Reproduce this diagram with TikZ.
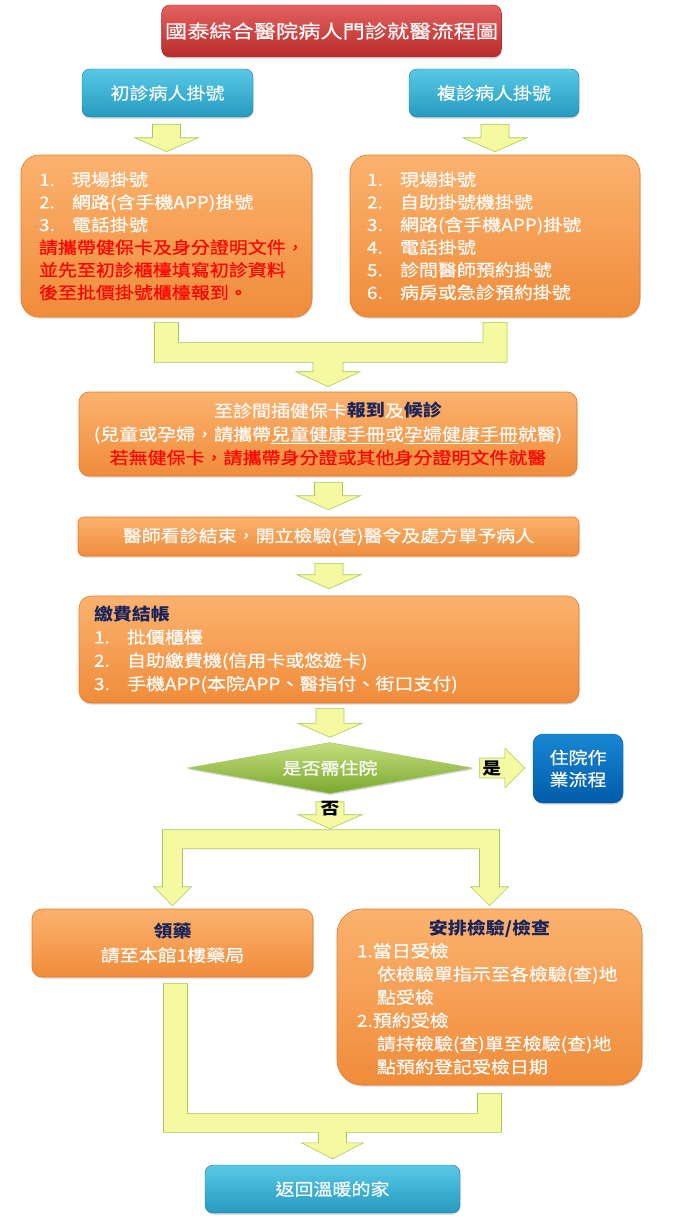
\documentclass[tikz,border=0pt]{standalone}
\usepackage{fontspec}
\setmainfont{Noto Sans CJK TC}[FakeStretch=1.13, UprightFeatures={FakeBold=0.35}]
\newfontfamily\titlefont{Noto Sans CJK TC}[FakeStretch=1.2, UprightFeatures={FakeBold=0.35}]
\usetikzlibrary{calc,shapes.geometric,shadows}

\definecolor{boxorange}{RGB}{247,150,70}
\definecolor{orangetop}{RGB}{251,178,110}
\definecolor{orangebot}{RGB}{240,140,58}
\definecolor{orangeline}{RGB}{226,122,44}
\definecolor{titletop}{RGB}{226,98,96}
\definecolor{titlebot}{RGB}{186,42,42}
\definecolor{cyantop}{RGB}{88,200,230}
\definecolor{cyanbot}{RGB}{38,155,192}
\definecolor{wardtop}{RGB}{24,134,212}
\definecolor{wardbot}{RGB}{0,92,168}
\definecolor{greentop}{RGB}{196,222,125}
\definecolor{greenbot}{RGB}{122,168,46}
\definecolor{arrowfill}{RGB}{245,250,160}
\definecolor{arrowline}{RGB}{168,200,92}
\definecolor{headnavy}{RGB}{26,36,92}
\definecolor{warnred}{RGB}{255,0,0}

\newcommand\warn[1]{\textcolor{warnred}{#1}}
\newcommand\head[1]{\textcolor{headnavy}{\bfseries #1}}
\newcommand\entry[2]{\makebox[33pt][l]{#1}#2}
% fat arrow pointing down: shaft top, tip
\newcommand\blockdown[2]{%
  \path[yarrow] let \p1=#1, \p2=#2 in
    (\x2-14pt,\y1) -- (\x2+14pt,\y1) -- (\x2+14pt,\y2+14pt) -- (\x2+32pt,\y2+14pt)
    -- (\x2,\y2) -- (\x2-32pt,\y2+14pt) -- (\x2-14pt,\y2+14pt) -- cycle;}

\begin{document}
\begin{tikzpicture}[x=1pt,y=-1pt,
  box/.style={rounded corners=8pt, text=white, font=\fontsize{16.8}{22.6}\selectfont,
    drop shadow={shadow xshift=0.6pt,shadow yshift=-1.6pt,opacity=0.3}},
  obox/.style={box, top color=orangetop, middle color=boxorange, bottom color=orangebot, draw=orangeline, line width=0.6pt},
  cbox/.style={box, top color=cyantop, bottom color=cyanbot, draw=cyanbot!80!black, line width=0.4pt},
  yarrow/.style={fill=arrowfill, draw=arrowline, line width=0.6pt},
  tag/.style={font=\bfseries\fontsize{16.5}{16.5}\selectfont, text=black, inner sep=0pt}]
\useasboundingbox (0,0) rectangle (674,1231);

\node[box, top color=titletop, bottom color=titlebot, draw=titlebot!85!black, minimum width=327pt, minimum height=52pt,
  font=\titlefont\fontsize{18.5}{20}\selectfont] (title) at (331.5,31) {國泰綜合醫院病人門診就醫流程圖};
\node[cbox, minimum width=171pt, minimum height=48pt] (reg1) at (167.5,93) {初診病人掛號};
\node[cbox, minimum width=170pt, minimum height=48pt] (reg2) at (494,93) {複診病人掛號};

\node[obox, rounded corners=18pt, text width=255pt, inner xsep=18pt, minimum height=162pt, align=left] (new) at (166.5,236) {
  \entry{1.}{現場掛號}\\
  \entry{2.}{網路(含手機APP)掛號}\\
  \entry{3.}{電話掛號}\\
  \warn{請攜帶健保卡及身分證明文件，}\\
  \warn{並先至初診櫃檯填寫初診資料}\\
  \warn{後至批價掛號櫃檯報到。}};
\node[obox, rounded corners=18pt, text width=256pt, inner xsep=17pt, minimum height=162pt, align=left] (ret) at (495,236) {
  \entry{1.}{現場掛號}\\
  \entry{2.}{自助掛號機掛號}\\
  \entry{3.}{網路(含手機APP)掛號}\\
  \entry{4.}{電話掛號}\\
  \entry{5.}{診間醫師預約掛號}\\
  \entry{6.}{病房或急診預約掛號}};

\node[obox, rounded corners=10pt, minimum width=498pt, minimum height=84pt, align=center,
  font=\fontsize{16.8}{23.5}\selectfont] (checkin) at (328,434) {
  至診間插健保卡\head{報到}及\head{候診}\\
  (兒童或孕婦，請攜帶\underline{兒童健康手冊}或\underline{孕婦健康手冊}就醫)\\
  \warn{若無健保卡，請攜帶身分證或其他身分證明文件就醫}};
\node[obox, rounded corners=6pt, minimum width=501pt, minimum height=39pt] (doctor) at (328.5,536.5)
  {醫師看診結束，開立檢驗(查)醫令及處方單予病人};
\node[obox, rounded corners=12pt, text width=470pt, inner xsep=15pt, minimum height=107pt, align=left,
  font=\fontsize{16.8}{23.3}\selectfont] (pay) at (329,649.5) {
  \head{繳費結帳}\\
  \entry{1.}{批價櫃檯}\\
  \entry{2.}{自助繳費機(信用卡或悠遊卡)}\\
  \entry{3.}{手機APP(本院APP、醫指付、街口支付)}};

\node[box, shape=diamond, aspect=5.6, rounded corners=0pt, top color=greentop, bottom color=greenbot, draw=greenbot!70,
  minimum width=285pt, minimum height=51pt, inner sep=0pt] (decide) at (330,768) {是否需住院};
\node[box, rounded corners=10pt, top color=wardtop, bottom color=wardbot, draw=wardbot, minimum width=90pt, minimum height=69pt,
  align=center, font=\fontsize{16.8}{22}\selectfont] (ward) at (578,768.5) {住院作\\業流程};

\node[obox, rounded corners=10pt, minimum width=281pt, minimum height=68pt, align=center,
  font=\fontsize{16.8}{24}\selectfont] (drug) at (172.5,943) {\head{領藥}\\請至本館1樓藥局};
\node[obox, rounded corners=25pt, text width=265pt, inner xsep=20pt, minimum height=176pt, align=left,
  font=\fontsize{16.8}{23.2}\selectfont] (exam) at (489.5,997) {
  \makebox[\hsize][c]{\head{安排檢驗/檢查}}\\
  1.當日受檢\\
  \hspace*{20pt}依檢驗單指示至各檢驗(查)地\\
  \hspace*{20pt}點受檢\\
  2.預約受檢\\
  \hspace*{20pt}請持檢驗(查)單至檢驗(查)地\\
  \hspace*{20pt}點預約登記受檢日期};

\node[cbox, minimum width=255pt, minimum height=48pt] (home) at (332.5,1189) {返回溫暖的家};

% arrows
\blockdown{($(reg1.south)+(0,7)$)}{($(new.north)+(0,-3)$)}
\blockdown{($(reg2.south)+(0,7)$)}{($(ret.north)+(0,-3)$)}
\path[yarrow] let \p1=(new.south), \p2=(ret.south), \p3=(checkin.north) in
  (\x1-12pt,\y1-5pt) -- (\x1+12pt,\y1-5pt) -- (\x1+12pt,\y1-25pt) -- (\x2-12pt,\y1-25pt) -- (\x2-12pt,\y1-5pt)
  -- (\x2+12pt,\y1-5pt) -- (\x2+12pt,\y1-45pt) -- (\x3+15pt,\y1-45pt) -- (\x3+15pt,\y3+20pt) -- (\x3+32pt,\y3+20pt)
  -- (\x3,\y3+5pt) -- (\x3-32pt,\y3+20pt) -- (\x3-15pt,\y3+20pt) -- (\x3-15pt,\y1-45pt) -- (\x1-12pt,\y1-45pt) -- cycle;
\blockdown{($(checkin.south)+(0,6)$)}{($(doctor.north)+(0,-7)$)}
\blockdown{($(doctor.south)+(0,7)$)}{($(pay.north)+(0,-7)$)}
\blockdown{($(pay.south)+(0,5)$)}{($(decide.north)+(0,-5)$)}

\path[yarrow] let \p1=(decide.east), \p2=(ward.west) in
  (\x1+7pt,\y1+10pt) -- (\x2-28pt,\y1+10pt) -- (\x2-28pt,\y1+20pt) -- (\x2-8pt,\y1)
  -- (\x2-28pt,\y1-20pt) -- (\x2-28pt,\y1-10pt) -- (\x1+7pt,\y1-10pt) -- cycle;
\node[tag] (yes) at ($(decide.east)+(19,0)$) {是};

\coordinate (fork) at ($(decide.south)+(0,36)$);
\blockdown{($(decide.south)+(0,8)$)}{($(fork)+(0,-1)$)}
\node[tag] (no) at ($(decide.south)+(0,15)$) {否};
\path[yarrow] let \p1=(fork), \p2=(drug.north), \p3=(exam.north) in
  (\x2-10pt,\y1) -- (\x3+10pt,\y1) -- (\x3+10pt,\y3+22pt) -- (\x3+19pt,\y3+22pt) -- (\x3,\y3+3pt)
  -- (\x3-19pt,\y3+22pt) -- (\x3-10pt,\y3+22pt) -- (\x3-10pt,\y1-19pt) -- (\x2+10pt,\y1-19pt)
  -- (\x2+10pt,\y2+22pt) -- (\x2+19pt,\y2+22pt) -- (\x2,\y2+3pt) -- (\x2-19pt,\y2+22pt) -- (\x2-10pt,\y2+22pt) -- cycle;

\path[yarrow] let \p1=(drug.south), \p2=(exam.south), \p3=(home.north) in
  (\x1-9pt,\y1-6pt) -- (\x1+15pt,\y1-6pt) -- (\x1+15pt,\y2-28pt) -- (\x2-12pt,\y2-28pt) -- (\x2-12pt,\y2-8pt)
  -- (\x2+12pt,\y2-8pt) -- (\x2+12pt,\y2-47pt) -- (\x3+14pt,\y2-47pt) -- (\x3+14pt,\y3+22pt) -- (\x3+31pt,\y3+22pt)
  -- (\x3,\y3+6pt) -- (\x3-31pt,\y3+22pt) -- (\x3-14pt,\y3+22pt) -- (\x3-14pt,\y2-47pt) -- (\x1-9pt,\y2-47pt) -- cycle;
\end{tikzpicture}
\end{document}
